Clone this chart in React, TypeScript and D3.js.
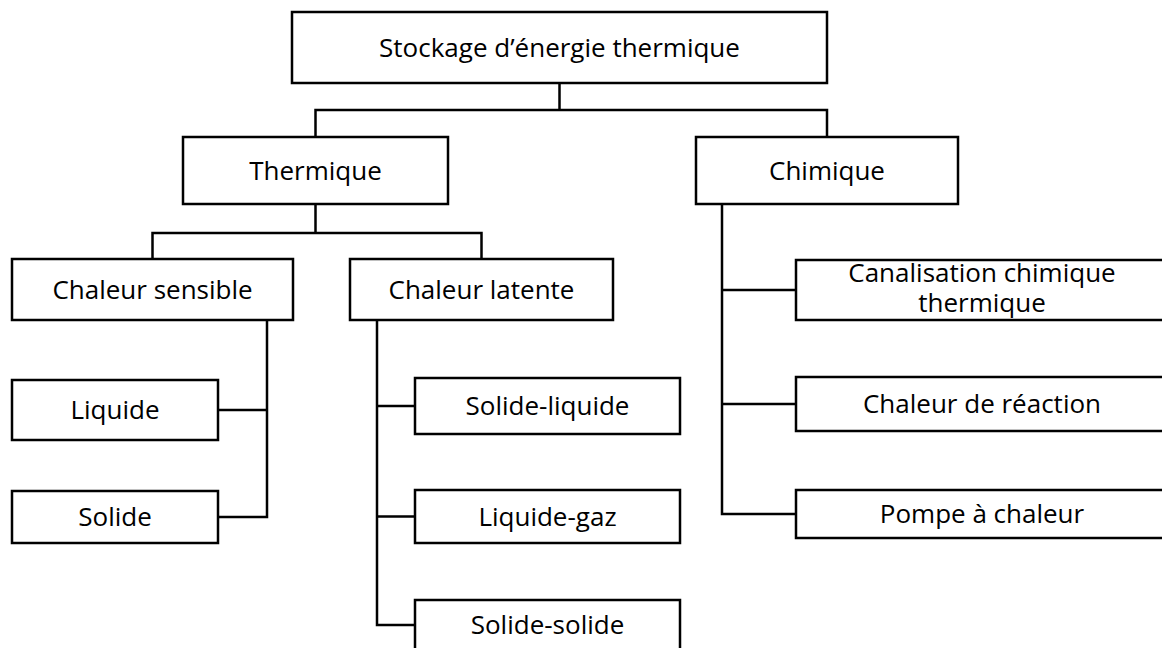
import React, { useEffect, useRef } from 'react';
import * as d3 from 'd3';

// tree content
const nodeIds = ['root', 'thermique', 'chimique', 'sensible', 'latente', 'liquide', 'solide', 'solLiq', 'liqGaz', 'solSol', 'canal', 'reaction', 'pompe'];
const nodeLabels = [
  ['Stockage d’énergie thermique'],
  ['Thermique'],
  ['Chimique'],
  ['Chaleur sensible'],
  ['Chaleur latente'],
  ['Liquide'],
  ['Solide'],
  ['Solide-liquide'],
  ['Liquide-gaz'],
  ['Solide-solide'],
  ['Canalisation chimique', 'thermique'],
  ['Chaleur de réaction'],
  ['Pompe à chaleur'],
];
const nodeParents = [null, 'root', 'root', 'thermique', 'thermique', 'sensible', 'sensible', 'latente', 'latente', 'latente', 'chimique', 'chimique', 'chimique'];

// layout of the boxes (x, y, w, h) and how each parent links its children
const boxLayout: Record<string, [number, number, number, number]> = {
  root: [292, 12, 535, 71],
  thermique: [183, 137, 265, 67],
  chimique: [696, 137, 262, 67],
  sensible: [12, 259, 281, 61],
  latente: [350, 259, 263, 61],
  liquide: [12, 380, 206, 60],
  solide: [12, 491, 206, 52],
  solLiq: [415, 378, 265, 56],
  liqGaz: [415, 490, 265, 53],
  solSol: [415, 600, 265, 50],
  canal: [796, 260, 372, 60],
  reaction: [796, 377, 372, 54],
  pompe: [796, 490, 372, 48],
};
const linkStyle: Record<string, { kind: 'bus'; y: number } | { kind: 'rail'; x: number }> = {
  root: { kind: 'bus', y: 110 },
  thermique: { kind: 'bus', y: 233 },
  chimique: { kind: 'rail', x: 722 },
  sensible: { kind: 'rail', x: 267 },
  latente: { kind: 'rail', x: 377 },
};

const width = 1162;
const height = 648;
const stroke = 2.5;
const fontSize = 26;

export default function App() {
  const svgRef = useRef<SVGSVGElement>(null);

  useEffect(() => {
    if (!svgRef.current) return;
    const svg = d3.select(svgRef.current);
    svg.selectAll('*').remove();

    const table = nodeIds.map((id, i) => ({ id, parent: nodeParents[i], lines: nodeLabels[i] }));
    const root = d3.stratify<typeof table[number]>()
      .id(d => d.id)
      .parentId(d => d.parent)(table);

    const box = (id: string) => {
      const [x, y, w, h] = boxLayout[id];
      return { x, y, w, h, cx: x + w / 2, cy: y + h / 2 };
    };

    // connectors
    const links = svg.append('g')
      .attr('fill', 'none')
      .attr('stroke', '#000')
      .attr('stroke-width', stroke)
      .attr('stroke-linejoin', 'miter')
      .attr('stroke-linecap', 'square');

    root.each(node => {
      if (!node.children) return;
      const p = box(node.id!);
      const style = linkStyle[node.id!];
      const kids = node.children.map(c => box(c.id!));
      const path = d3.path();
      if (style.kind === 'bus') {
        path.moveTo(p.cx, p.y + p.h);
        path.lineTo(p.cx, style.y);
        const xs = kids.map(k => k.cx);
        path.moveTo(d3.min(xs)!, style.y);
        path.lineTo(d3.max(xs)!, style.y);
        kids.forEach(k => {
          path.moveTo(k.cx, style.y);
          path.lineTo(k.cx, k.y);
        });
      } else {
        const lastY = d3.max(kids, k => k.cy)!;
        path.moveTo(style.x, p.y + p.h);
        path.lineTo(style.x, lastY);
        kids.forEach(k => {
          const edge = k.x > style.x ? k.x : k.x + k.w;
          path.moveTo(style.x, k.cy);
          path.lineTo(edge, k.cy);
        });
      }
      links.append('path').attr('d', path.toString());
    });

    // boxes
    const nodes = svg.append('g')
      .selectAll('g')
      .data(root.descendants())
      .enter()
      .append('g');

    nodes.append('rect')
      .attr('x', d => box(d.id!).x)
      .attr('y', d => box(d.id!).y)
      .attr('width', d => box(d.id!).w)
      .attr('height', d => box(d.id!).h)
      .attr('fill', '#fff')
      .attr('stroke', '#000')
      .attr('stroke-width', stroke);

    nodes.append('text')
      .attr('x', d => box(d.id!).cx)
      .attr('y', d => {
        const b = box(d.id!);
        return d.data.lines.length > 1 ? b.cy - 8 : b.cy + 9;
      })
      .attr('text-anchor', 'middle')
      .attr('font-family', '"Open Sans", sans-serif')
      .attr('font-size', fontSize)
      .attr('fill', '#000')
      .selectAll('tspan')
      .data(d => d.data.lines)
      .enter()
      .append('tspan')
      .attr('x', function () {
        return (this.parentNode as SVGTextElement).getAttribute('x');
      })
      .attr('dy', (_, i) => (i === 0 ? 0 : 30))
      .text(d => d);
  }, []);

  return (
    <svg
      ref={svgRef}
      width={width}
      height={height}
      style={{ position: 'absolute', left: 0, top: 0, background: '#fff' }}
    />
  );
}
